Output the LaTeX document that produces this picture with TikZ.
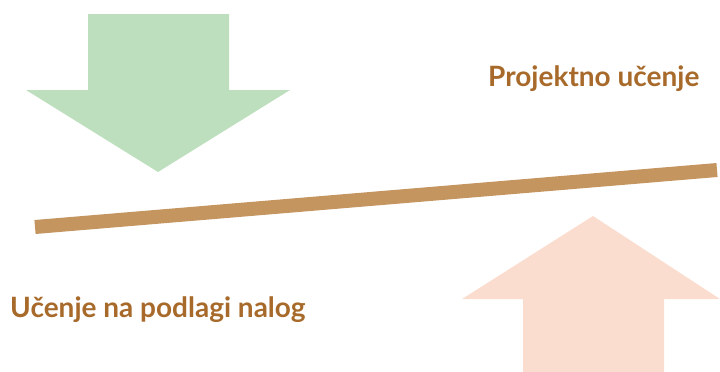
\documentclass[tikz,border=0pt]{standalone}
\usepackage{fontspec}
\setmainfont{Lato}
\definecolor{arrowgreen}{HTML}{BEDFBE}
\definecolor{arrowpeach}{HTML}{FBDDD0}
\definecolor{beambrown}{HTML}{C4955F}
\definecolor{labelbrown}{HTML}{A86A2A}
\tikzset{
  caption/.style={text=labelbrown, font=\bfseries\fontsize{28}{32}\selectfont, inner sep=0pt, anchor=base west}
}
\begin{document}
\begin{tikzpicture}[x=1pt,y=-1pt]
  \useasboundingbox (0,0) rectangle (720,372);
  % Pfeil nach unten
  \fill[arrowgreen] (88,14) -- (229,14) -- (229,90) -- (290,90) -- (158,172) -- (26,90) -- (88,90) -- cycle;

  % Waage-Balken
  \draw[beambrown, line width=14pt] (35,227) -- (717,170);

  % Pfeil nach oben
  \fill[arrowpeach] (523,372) -- (664,372) -- (664,299) -- (720,299) -- (593,216) -- (462,299) -- (523,299) -- cycle;

  % Beschriftungen
  \node[caption] (projekt) at (488,86) {Projektno učenje};
  \node[caption] (naloge) at (10,317) {Učenje na podlagi nalog};
\end{tikzpicture}
\end{document}
